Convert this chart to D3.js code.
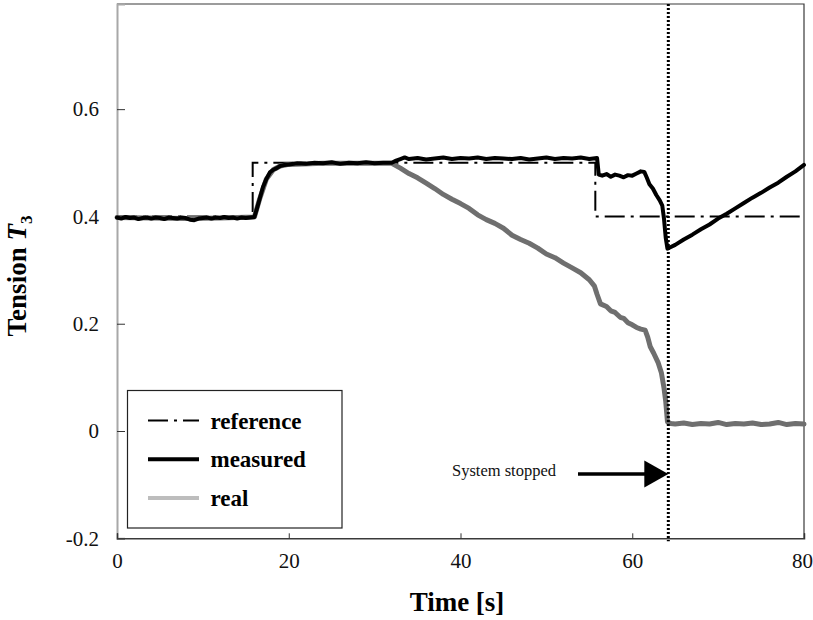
<!DOCTYPE html>
<html>
<head>
<meta charset="utf-8">
<script src="https://cdn.jsdelivr.net/npm/d3@7"></script>
<style>
  html, body { margin: 0; padding: 0; background: #fff; }
  svg { display: block; }
</style>
</head>
<body>
<svg id="chart" width="813" height="620"></svg>
<script>
// Reference tension set-point (step changes)
const refTime  = [0, 15.8, 55.7, 80];
const refValue = [0.4, 0.5, 0.4, 0.4];

// Measured tension T3
const measTime = [0,0.5,1,1.5,2,2.5,3,3.5,4,4.5,5,5.5,6,6.5,7,7.5,8,8.5,9,9.5,10,10.5,11,11.5,12,12.5,13,13.5,14,14.5,15,15.5,16,
  16.3,16.6,17,17.4,17.8,18.2,18.6,19,19.5,20,21,22,23,24,25,26,27,28,29,30,31,32,32.5,33,33.5,34,35,36,37,38,39,40,41,42,43,44,45,46,47,48,49,50,51,52,53,54,55,55.9,
  56.1,56.5,57,57.5,58,58.5,59,59.5,60,60.5,61,61.4,61.7,62,62.4,62.8,63.2,63.5,63.7,63.9,64.1,64.5,65,66,67,68,69,70,71,72,73,74,75,76,77,78,79,80];
const measValue = [0.398,0.396,0.399,0.397,0.398,0.395,0.397,0.398,0.396,0.398,0.397,0.395,0.398,0.397,0.396,0.398,0.397,0.394,0.393,0.396,0.397,0.398,0.396,0.398,0.397,0.399,0.397,0.398,0.396,0.398,0.397,0.398,0.399,
  0.415,0.432,0.455,0.470,0.482,0.487,0.490,0.494,0.496,0.497,0.499,0.498,0.500,0.499,0.501,0.498,0.500,0.499,0.501,0.499,0.500,0.500,0.504,0.507,0.510,0.507,0.509,0.506,0.508,0.510,0.507,0.509,0.508,0.510,0.507,0.509,0.508,0.507,0.509,0.506,0.508,0.510,0.507,0.509,0.508,0.510,0.507,0.509,
  0.478,0.476,0.479,0.474,0.478,0.476,0.473,0.477,0.476,0.480,0.484,0.483,0.472,0.460,0.452,0.440,0.430,0.420,0.395,0.360,0.340,0.343,0.347,0.357,0.366,0.376,0.385,0.396,0.405,0.415,0.425,0.435,0.444,0.454,0.463,0.474,0.484,0.496];

// Real tension T3
const realTime = [0,4,8,12,16,16.6,17.4,18.2,19,20,24,28,32,33,34,35,36,37,38,39,40,41,42,43,44,45,46,47,48,49,50,51,52,53,54,55,55.6,55.9,56.3,57,57.5,58,58.6,59,59.5,60,60.5,61,61.5,61.8,62.1,62.5,63,63.4,63.7,63.9,64.1,64.5,65,66,67,68,69,70,71,72,73,74,75,76,77,78,79,80];
const realValue = [0.398,0.397,0.396,0.397,0.399,0.432,0.470,0.487,0.494,0.497,0.499,0.499,0.499,0.490,0.480,0.472,0.462,0.452,0.441,0.432,0.424,0.415,0.403,0.394,0.387,0.378,0.365,0.357,0.350,0.341,0.330,0.323,0.313,0.304,0.295,0.282,0.270,0.255,0.237,0.232,0.224,0.221,0.212,0.210,0.202,0.198,0.193,0.190,0.188,0.175,0.157,0.145,0.128,0.108,0.080,0.055,0.017,0.014,0.013,0.015,0.012,0.014,0.013,0.016,0.012,0.014,0.013,0.015,0.012,0.013,0.016,0.012,0.014,0.013];

const stopTime = 64.2;
const xTicks = [0, 20, 40, 60, 80];
const yTicks = [-0.2, 0, 0.2, 0.4, 0.6];
const legendLabels = ["reference", "measured", "real"];

const SERIF = "'Liberation Serif', 'Times New Roman', Times, serif";
const svg = d3.select("#chart");
const plotLeft = 117, plotRight = 804, plotTop = 4, plotBottom = 538.3;

const x = d3.scaleLinear().domain([0, 80]).range([plotLeft, plotRight]);
const y = d3.scaleLinear().domain([-0.2, 0.796]).range([plotBottom, plotTop]);

// plot frame (top and right edges)
svg.append("path")
  .attr("d", `M${plotLeft},${plotTop}H${plotRight}V${plotBottom}`)
  .attr("fill", "none").attr("stroke", "#3a3a3a").attr("stroke-width", 1.2);

// axes
const yAxis = svg.append("g")
  .attr("transform", `translate(${plotLeft},0)`)
  .call(d3.axisLeft(y).tickValues(yTicks).tickSize(-8).tickPadding(18)
    .tickFormat(d => d === 0 ? "0" : d3.format(".1f")(d).replace("\u2212", "-")));
yAxis.attr("font-family", SERIF);
yAxis.select(".domain").attr("stroke", "#a8a8a8").attr("stroke-width", 2);
yAxis.selectAll(".tick line").attr("stroke", "#333");
yAxis.selectAll("text").attr("font-family", SERIF).attr("font-size", 21).attr("fill", "#111");

const xAxis = svg.append("g")
  .attr("transform", `translate(0,${plotBottom})`)
  .call(d3.axisBottom(x).tickValues(xTicks).tickSize(-5).tickPadding(15));
xAxis.attr("font-family", SERIF);
xAxis.select(".domain").attr("stroke", "#3a3a3a").attr("stroke-width", 1.5);
xAxis.selectAll(".tick line").attr("stroke", "#333");
xAxis.selectAll("text").attr("font-family", SERIF).attr("font-size", 21).attr("fill", "#111")
  .attr("dx", d => d === 80 ? -2 : 0);

// axis titles
svg.append("text")
  .attr("x", 457).attr("y", 611)
  .attr("text-anchor", "middle")
  .attr("font-family", SERIF)
  .attr("font-size", 27).attr("font-weight", "bold")
  .text("Time [s]");

const yTitle = svg.append("text")
  .attr("transform", "translate(26,276) rotate(-90)")
  .attr("text-anchor", "middle")
  .attr("font-family", SERIF)
  .attr("font-size", 27).attr("font-weight", "bold");
yTitle.append("tspan").text("Tension ");
yTitle.append("tspan").attr("font-style", "italic").text("T");
yTitle.append("tspan").attr("font-size", 17).attr("dy", 6).text("3");

// series
const refLine = d3.line().x((d, i) => x(refTime[i])).y(d => y(d)).curve(d3.curveStepAfter);
const measLine = d3.line().x((d, i) => x(measTime[i])).y(d => y(d));
const realLine = d3.line().x((d, i) => x(realTime[i])).y(d => y(d));

svg.append("path")
  .attr("d", refLine(refValue))
  .attr("fill", "none").attr("stroke", "#000").attr("stroke-width", 2)
  .attr("stroke-dasharray", "20,6,3,6");

svg.append("path")
  .attr("d", realLine(realValue))
  .attr("fill", "none").attr("stroke", "#6f6f6f").attr("stroke-width", 5)
  .attr("stroke-linejoin", "round").attr("stroke-linecap", "round");

svg.append("path")
  .attr("d", measLine(measValue))
  .attr("fill", "none").attr("stroke", "#000").attr("stroke-width", 4)
  .attr("stroke-linejoin", "round").attr("stroke-linecap", "round");

// stop marker
svg.append("line")
  .attr("x1", x(stopTime)).attr("x2", x(stopTime))
  .attr("y1", plotTop).attr("y2", plotBottom + 3)
  .attr("stroke", "#000").attr("stroke-width", 3)
  .attr("stroke-dasharray", "2,2");

// annotation
const ay = 474, tipX = x(stopTime);
svg.append("text")
  .attr("x", 556).attr("y", 476)
  .attr("text-anchor", "end")
  .attr("font-family", SERIF)
  .attr("font-size", 16.5).attr("fill", "#111")
  .text("System stopped");
svg.append("line")
  .attr("x1", 578).attr("x2", tipX - 22)
  .attr("y1", ay).attr("y2", ay)
  .attr("stroke", "#000").attr("stroke-width", 3.5);
svg.append("path")
  .attr("d", `M${tipX},${ay}L${tipX - 24},${ay - 13.5}L${tipX - 24},${ay + 13.5}Z`)
  .attr("fill", "#000");

// legend
const lg = svg.append("g");
lg.append("rect")
  .attr("x", 127.5).attr("y", 390.5).attr("width", 214.5).attr("height", 137.5)
  .attr("fill", "#fff").attr("stroke", "#222").attr("stroke-width", 1.2);
const legendStyles = [
  { stroke: "#000", width: 2, dash: "20,6,3,6" },
  { stroke: "#000", width: 4, dash: null },
  { stroke: "#bdbdbd", width: 4, dash: null }
];
legendLabels.forEach((label, i) => {
  const cy = 420.5 + i * 38.7;
  const st = legendStyles[i];
  lg.append("line")
    .attr("x1", 148).attr("x2", 199).attr("y1", cy).attr("y2", cy)
    .attr("stroke", st.stroke).attr("stroke-width", st.width)
    .attr("stroke-dasharray", st.dash);
  lg.append("text")
    .attr("x", 210.5).attr("y", cy + 3)
    .attr("font-family", SERIF)
    .attr("font-size", 23).attr("font-weight", "bold")
    .attr("dominant-baseline", "middle")
    .text(label);
});
</script>
</body>
</html>
